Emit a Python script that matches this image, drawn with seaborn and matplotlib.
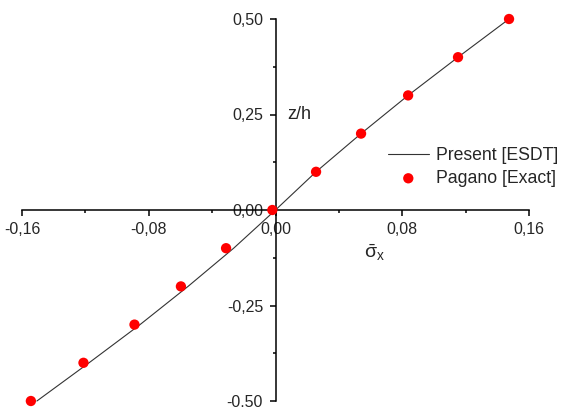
import matplotlib
matplotlib.use("Agg")
import matplotlib.pyplot as plt
from matplotlib.ticker import FixedLocator, FuncFormatter
import seaborn as sns
import pandas as pd

# Through-thickness normal stress distribution sigma_x vs z/h
esdt_z = [-0.5, -0.4, -0.3, -0.2, -0.1, 0.0, 0.1, 0.2, 0.3, 0.4, 0.5]
esdt_sigma = [-0.1506, -0.1177, -0.0855, -0.0552, -0.0264, 0.0,
              0.0256, 0.0540, 0.0837, 0.1152, 0.1474]

pagano_z = [-0.5, -0.4, -0.3, -0.2, -0.1, 0.0, 0.1, 0.2, 0.3, 0.4, 0.5]
pagano_sigma = [-0.1544, -0.1212, -0.0890, -0.0597, -0.0312, -0.002,
                0.0256, 0.0540, 0.0837, 0.1152, 0.1474]

x_major = [-0.16, -0.08, 0.0, 0.08, 0.16]
x_minor = [-0.12, -0.04, 0.04, 0.12]
y_major = [-0.50, -0.25, 0.0, 0.25, 0.50]
y_minor = [-0.375, -0.125, 0.125, 0.375]

sns.set_style("white")
plt.rcParams["font.family"] = ["Liberation Sans", "DejaVu Sans"]
plt.rcParams["mathtext.fontset"] = "custom"
plt.rcParams["mathtext.rm"] = "Liberation Sans"
plt.rcParams["mathtext.it"] = "Liberation Sans"

fig = plt.figure(figsize=(5.61, 4.07), dpi=100)
ax = fig.add_axes([22 / 561, 6 / 407, 507 / 561, 382 / 407])

esdt = pd.DataFrame({"sigma": esdt_sigma, "z": esdt_z})
pagano = pd.DataFrame({"sigma": pagano_sigma, "z": pagano_z})

sns.lineplot(data=esdt, x="sigma", y="z", sort=False, ax=ax, color="#333333",
             linewidth=0.8, label="Present [ESDT]", clip_on=False)
sns.scatterplot(data=pagano, x="sigma", y="z", ax=ax, color="#ff0000",
                s=55, edgecolor="none", label="Pagano [Exact]", clip_on=False,
                zorder=3)

ax.set_xlim(-0.16, 0.16)
ax.set_ylim(-0.5, 0.5)

for side in ("top", "right"):
    ax.spines[side].set_visible(False)
for side in ("left", "bottom"):
    ax.spines[side].set_position(("data", 0))
    ax.spines[side].set_linewidth(1.1)
    ax.spines[side].set_color("black")

fmt = FuncFormatter(lambda v, p: f"{v:.2f}".replace(".", ","))
ax.xaxis.set_major_locator(FixedLocator(x_major))
ax.xaxis.set_minor_locator(FixedLocator(x_minor))
ax.yaxis.set_major_locator(FixedLocator(y_major))
ax.yaxis.set_minor_locator(FixedLocator(y_minor))
ax.xaxis.set_major_formatter(fmt)
ax.yaxis.set_major_formatter(fmt)

ax.tick_params(axis="both", which="major", direction="out", length=4,
               width=1.1, color="black", labelsize=11.5, pad=5,
               bottom=True, left=True)
ax.tick_params(axis="both", which="minor", direction="out", length=2.5,
               width=1.1, color="black", bottom=True, left=True)

ax.set_xlabel("")
ax.set_ylabel("")
ax.text(0.0075, 0.25, "z/h", fontsize=13, ha="left", va="center")
ax.text(0.0625, -0.113, r"$\bar{\sigma}_x$", fontsize=14, ha="center",
        va="center")

ax.legend(loc="center left", bbox_to_anchor=(0.708, 0.613), frameon=False,
          fontsize=12.7, handlelength=2.3, handletextpad=0.4, labelspacing=0.35,
          borderaxespad=0)

fig.savefig("out.png", dpi=100)
